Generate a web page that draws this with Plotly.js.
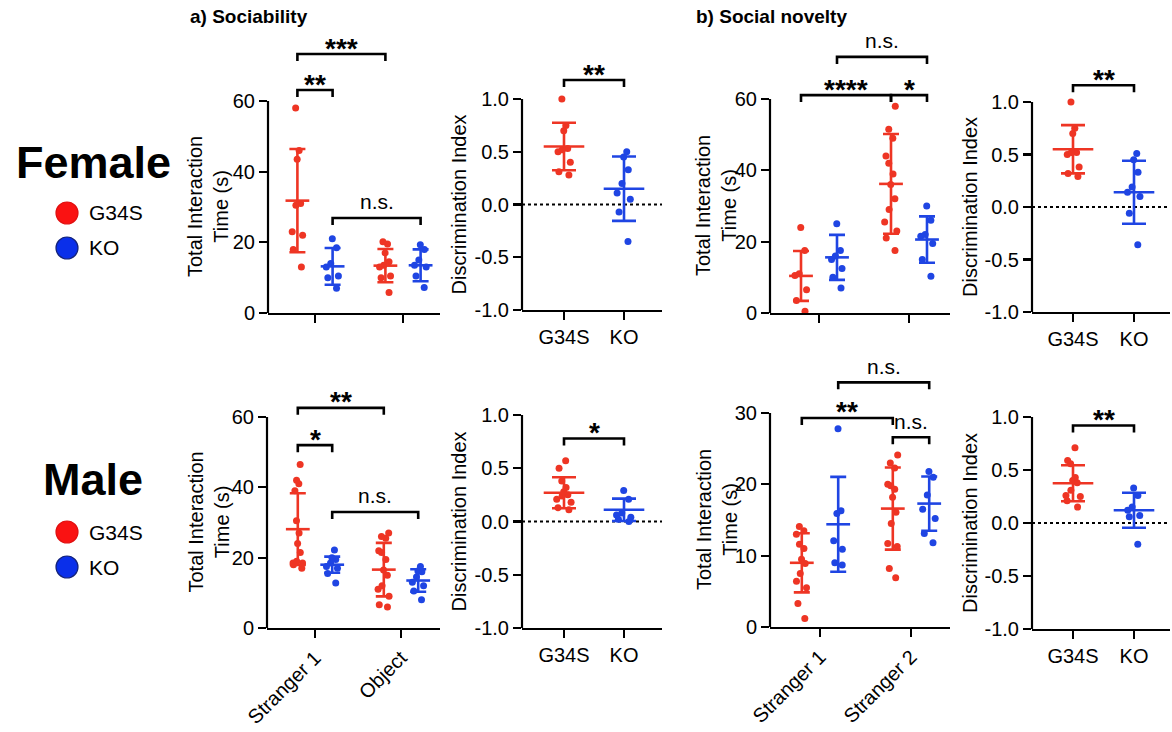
<!DOCTYPE html>
<html><head><meta charset="utf-8">
<script src="https://cdn.plot.ly/plotly-3.0.1.min.js"></script>
<style>html,body{margin:0;padding:0;background:#fff}#chart{width:1172px;height:732px}</style>
</head><body><div id="chart"></div>
<script>
const W = 1172, H = 732;
const RED = '#EE3524', BLUE = '#1F45E3';
const FONT = 'Liberation Sans, Arial, Helvetica, sans-serif';

// ---------- categories / labels ----------
const genotypes = ['G34S', 'KO'];
const sociabilityCats = ['Stranger 1', 'Object'];
const noveltyCats = ['Stranger 1', 'Stranger 2'];
const timeTicks = [0, 20, 40, 60];
const timeTicksMaleNovelty = [0, 10, 20, 30];
const diTicks = [-1, -0.5, 0, 0.5, 1];
const diTickText = ['-1.0', '-0.5', '0.0', '0.5', '1.0'];

// ---------- Female, sociability (s) ----------
const fSoc_G34S_S1 = [58, 46, 43.5, 31, 30.5, 23, 22, 18, 13];
const fSoc_KO_S1 = [21, 18.5, 14, 13, 10.5, 10, 7];
const fSoc_G34S_Obj = [20.2, 19.5, 17, 14.5, 13.5, 13, 10.5, 10, 5.8];
const fSoc_KO_Obj = [19.3, 18, 15, 13.5, 13, 10.5, 7.2];
const fSoc_mean = [31.8, 13.2, 13.4, 13.5];
const fSoc_sd = [14.6, 5.2, 4.7, 4.5];
const fSoc_sig = [[0, 1, 63.1, '**'], [0, 2, 73.3, '***'], [1, 3, 26.9, 'n.s.']];

// ---------- Female, sociability DI ----------
const fSocDI_G34S = [1.0, 0.75, 0.70, 0.53, 0.52, 0.50, 0.40, 0.31, 0.28];
const fSocDI_KO = [0.50, 0.45, 0.33, 0.20, 0.11, 0.05, -0.07, -0.35];
const fSocDI_mean = [0.55, 0.15];
const fSocDI_sd = [0.225, 0.305];
const fSocDI_sig = [[0, 1, 1.18, '**']];

// ---------- Female, social novelty (s) ----------
const fNov_G34S_S1 = [24, 17.5, 11, 10.5, 6.5, 3.5, 0.5];
const fNov_KO_S1 = [25, 17.5, 16, 15, 12.5, 10, 7];
const fNov_G34S_S2 = [58, 51.5, 49, 44, 42, 39, 36, 32, 29, 25.5, 23, 21, 17.5];
const fNov_KO_S2 = [30, 26, 22, 21.5, 19.5, 15, 10.3];
const fNov_mean = [10.4, 15.6, 36.2, 20.6];
const fNov_sd = [7.0, 6.3, 14.0, 6.5];
const fNov_sig = [[0, 2, 61.1, '****'], [2, 3, 61.1, '*'], [1, 3, 71.8, 'n.s.']];

// ---------- Female, social novelty DI ----------
const fNovDI_G34S = [1.0, 0.75, 0.70, 0.52, 0.52, 0.50, 0.38, 0.32, 0.29];
const fNovDI_KO = [0.51, 0.45, 0.33, 0.19, 0.14, 0.10, -0.06, -0.36];
const fNovDI_mean = [0.55, 0.14];
const fNovDI_sd = [0.23, 0.30];
const fNovDI_sig = [[0, 1, 1.16, '**']];

// ---------- Male, sociability (s) ----------
const mSoc_G34S_S1 = [46.5, 42, 41, 39, 30.5, 27, 24, 21.5, 19, 18.5, 18.5, 18, 17];
const mSoc_KO_S1 = [22.2, 20, 19.5, 18.5, 17.5, 17, 15.5, 12.8];
const mSoc_G34S_Obj = [27, 26, 25.5, 22, 21.5, 19.5, 16.5, 15, 12, 11, 9, 6.6, 6];
const mSoc_KO_Obj = [17.5, 16.2, 16, 14.5, 13, 12, 10.5, 8];
const mSoc_mean = [28.1, 18.0, 16.6, 13.5];
const mSoc_sd = [10.2, 2.3, 7.6, 3.2];
const mSoc_sig = [[0, 2, 62.6, '**'], [0, 1, 52, '*'], [1, 3, 33, 'n.s.']];

// ---------- Male, sociability DI ----------
const mSocDI_G34S = [0.57, 0.50, 0.38, 0.32, 0.28, 0.25, 0.24, 0.21, 0.18, 0.13, 0.11];
const mSocDI_KO = [0.29, 0.21, 0.08, 0.06, 0.04, 0.02, 0.0];
const mSocDI_mean = [0.27, 0.11];
const mSocDI_sd = [0.145, 0.105];
const mSocDI_sig = [[0, 1, 0.78, '*']];

// ---------- Male, social novelty (s) ----------
const mNov_G34S_S1 = [14.1, 13.5, 13, 11.6, 11, 9.5, 8.9, 7.5, 6.4, 5.5, 3.3, 1.2];
const mNov_KO_S1 = [27.8, 16.3, 15.9, 12.1, 10.9, 9, 8.7];
const mNov_G34S_S2 = [24.1, 23, 22.3, 20, 19.8, 19.3, 18.2, 16.1, 14.5, 11.7, 11.3, 8.2, 6.9];
const mNov_KO_S2 = [21.8, 21, 18.5, 16.5, 15.2, 13.1, 11.8];
const mNov_mean = [9.0, 14.4, 16.6, 17.3];
const mNov_sd = [4.15, 6.65, 5.75, 3.8];
const mNov_sig = [[0, 2, 29.3, '**'], [2, 3, 26.6, 'n.s.'], [1, 3, 34.3, 'n.s.']];

// ---------- Male, social novelty DI ----------
const mNovDI_G34S = [0.71, 0.59, 0.56, 0.43, 0.40, 0.38, 0.31, 0.26, 0.25, 0.21, 0.15];
const mNovDI_KO = [0.33, 0.26, 0.15, 0.12, 0.07, 0.06, -0.2];
const mNovDI_mean = [0.375, 0.12];
const mNovDI_sd = [0.17, 0.165];
const mNovDI_sig = [[0, 1, 0.92, '**']];

// ---------- panel geometry (pixels) ----------
const panels = [
  {left:268, right:440, bottom:313, tickTop:101, top:28, cats:[315,403], yMin:0, yMax:60, ticks:timeTicks, labels:['',''], grouped:true,
   vals:[fSoc_G34S_S1, fSoc_KO_S1, fSoc_G34S_Obj, fSoc_KO_Obj], mean:fSoc_mean, sd:fSoc_sd, sig:fSoc_sig, titleX:208},
  {left:522, right:662, bottom:310, tickTop:99, top:28, cats:[564,624], yMin:-1, yMax:1, ticks:diTicks, tickText:diTickText, labels:genotypes, grouped:false,
   vals:[fSocDI_G34S, fSocDI_KO], mean:fSocDI_mean, sd:fSocDI_sd, sig:fSocDI_sig, titleX:458},
  {left:770, right:950, bottom:313, tickTop:99, top:28, cats:[819,909], yMin:0, yMax:60, ticks:timeTicks, labels:['',''], grouped:true,
   vals:[fNov_G34S_S1, fNov_KO_S1, fNov_G34S_S2, fNov_KO_S2], mean:fNov_mean, sd:fNov_sd, sig:fNov_sig, titleX:716},
  {left:1032, right:1170, bottom:312, tickTop:102, top:28, cats:[1073,1134], yMin:-1, yMax:1, ticks:diTicks, tickText:diTickText, labels:genotypes, grouped:false,
   vals:[fNovDI_G34S, fNovDI_KO], mean:fNovDI_mean, sd:fNovDI_sd, sig:fNovDI_sig, titleX:970},
  {left:267, right:440, bottom:628, tickTop:417, top:345, cats:[315,401], yMin:0, yMax:60, ticks:timeTicks, labels:sociabilityCats, angle:-45, grouped:true,
   vals:[mSoc_G34S_S1, mSoc_KO_S1, mSoc_G34S_Obj, mSoc_KO_Obj], mean:mSoc_mean, sd:mSoc_sd, sig:mSoc_sig, titleX:208},
  {left:522, right:662, bottom:628, tickTop:415, top:345, cats:[564,624], yMin:-1, yMax:1, ticks:diTicks, tickText:diTickText, labels:genotypes, grouped:false,
   vals:[mSocDI_G34S, mSocDI_KO], mean:mSocDI_mean, sd:mSocDI_sd, sig:mSocDI_sig, titleX:458},
  {left:770, right:950, bottom:627, tickTop:413, top:345, cats:[820,911], yMin:0, yMax:30, ticks:timeTicksMaleNovelty, labels:noveltyCats, angle:-45, grouped:true,
   vals:[mNov_G34S_S1, mNov_KO_S1, mNov_G34S_S2, mNov_KO_S2], mean:mNov_mean, sd:mNov_sd, sig:mNov_sig, titleX:717},
  {left:1032, right:1170, bottom:629, tickTop:417, top:345, cats:[1073,1134], yMin:-1, yMax:1, ticks:diTicks, tickText:diTickText, labels:genotypes, grouped:false,
   vals:[mNovDI_G34S, mNovDI_KO], mean:mNovDI_mean, sd:mNovDI_sd, sig:mNovDI_sig, titleX:970}
];

const traces = [], shapes = [], annotations = [];
const layout = {
  width: W, height: H, margin: {l:0, r:0, t:0, b:0},
  paper_bgcolor: '#fff', plot_bgcolor: 'rgba(0,0,0,0)',
  showlegend: false, boxmode: 'overlay',
  font: {family: FONT, color: '#000', size: 20}
};

panels.forEach((p, k) => {
  const n = k + 1, sfx = n === 1 ? '' : String(n);
  const xr = 'x' + sfx, yr = 'y' + sfx;
  const u = p.cats[1] - p.cats[0];
  const pxY = (p.bottom - p.tickTop) / (p.yMax - p.yMin);
  const yTop = p.yMin + (p.bottom - p.top) / pxY;
  layout['xaxis' + sfx] = {
    domain: [p.left / W, p.right / W], range: [(p.left - p.cats[0]) / u, (p.right - p.cats[0]) / u],
    type: 'linear', anchor: yr, showline: true, linewidth: 2.2, linecolor: '#000',
    ticks: 'outside', ticklen: 8, tickwidth: 2.2, tickcolor: '#000',
    tickvals: [0, 1], ticktext: p.labels, tickangle: p.angle || 0,
    showgrid: false, zeroline: false, fixedrange: true, tickfont: {size: 20, family: FONT}
  };
  layout['yaxis' + sfx] = {
    domain: [1 - p.bottom / H, 1 - p.top / H], range: [p.yMin, yTop],
    type: 'linear', anchor: xr, showline: false,
    ticks: 'outside', ticklen: 8, tickwidth: 2.2, tickcolor: '#000',
    tickvals: p.ticks, ticktext: p.tickText || p.ticks.map(String),
    showgrid: false, zeroline: false, fixedrange: true, tickfont: {size: 20, family: FONT}
  };
  // y axis line from min to max tick only
  shapes.push({type:'line', xref: xr + ' domain', yref: yr, x0: 0, x1: 0, y0: p.yMin, y1: p.yMax,
    line: {color:'#000', width: 2.2}, layer: 'above'});
  if (!p.grouped) {
    shapes.push({type:'line', xref: xr + ' domain', yref: yr, x0: 0, x1: 1, y0: 0, y1: 0,
      line: {color:'#000', width: 2, dash: 'dot'}, layer: 'below'});
  }
  const pos = p.grouped ? [-0.2, 0.2, 0.8, 1.2] : [0, 1];
  const boxW = (p.grouped ? 22 : 27) / u;
  const meanSize = p.grouped ? 17 : 29;
  const capHalf = p.grouped ? 8 : 12;
  p.vals.forEach((v, g) => {
    const col = g % 2 === 0 ? RED : BLUE;
    traces.push({type:'box', xaxis: xr, yaxis: yr, x0: pos[g], y: v, width: boxW,
      boxpoints: 'all', jitter: 0.7, pointpos: 0, whiskerwidth: 0,
      fillcolor: 'rgba(0,0,0,0)', line: {width: 0, color: 'rgba(0,0,0,0)'},
      marker: {color: col, size: 7, line: {width: 0}}, hoverinfo: 'y', hoveron: 'points'});
    traces.push({type:'scatter', mode:'markers', xaxis: xr, yaxis: yr, x: [pos[g]], y: [p.mean[g]],
      marker: {symbol: 'line-ew', size: meanSize, color: col, line: {color: col, width: 2.6}},
      error_y: {type: 'data', array: [p.sd[g]], visible: true, width: capHalf, thickness: 2.6, color: col},
      hoverinfo: 'y'});
  });
  const drop = 7 / pxY;
  p.sig.forEach(s => {
    const a = pos[s[0]], b = pos[s[1]], h = s[2], lab = s[3];
    traces.push({type:'scatter', mode:'lines', xaxis: xr, yaxis: yr, x: [a, a, b, b], y: [h - drop, h, h, h - drop],
      line: {color: '#000', width: 2.6}, hoverinfo: 'skip'});
    const star = lab.indexOf('*') >= 0;
    annotations.push({xref: xr, yref: yr, x: (a + b) / 2, y: h, text: lab, showarrow: false,
      xanchor: 'center', yanchor: 'middle', yshift: star ? 6 : 16,
      font: {family: FONT, size: star ? 28 : 21, color: '#000', weight: star ? 'bold' : 'normal'}});
  });
  annotations.push({xref:'paper', yref:'paper', x: p.titleX / W, y: 1 - ((p.bottom + p.tickTop) / 2) / H,
    text: p.grouped ? 'Total Interaction<br>Time (s)' : 'Discrimination Index', textangle: -90, showarrow: false,
    xanchor: 'center', yanchor: 'middle', font: {family: FONT, size: 20, color: '#000'}});
});

// panel titles and row labels
annotations.push({xref:'paper', yref:'paper', x: 188 / W, y: 1 - 17 / H, text: '<b>a) Sociability</b>', showarrow:false,
  xanchor:'left', yanchor:'middle', font:{family: FONT, size: 19}});
annotations.push({xref:'paper', yref:'paper', x: 694 / W, y: 1 - 17 / H, text: '<b>b) Social novelty</b>', showarrow:false,
  xanchor:'left', yanchor:'middle', font:{family: FONT, size: 19}});
const rows = [['Female', 162, 213], ['Male', 480, 532]];
rows.forEach(r => {
  annotations.push({xref:'paper', yref:'paper', x: 93 / W, y: 1 - r[1] / H, text: '<b>' + r[0] + '</b>', showarrow:false,
    xanchor:'center', yanchor:'middle', font:{family: FONT, size: 45}});
  genotypes.forEach((gname, g) => {
    const cy = r[2] + g * 35;
    shapes.push({type:'circle', xref:'paper', yref:'paper', xsizemode:'pixel', ysizemode:'pixel',
      xanchor: 67 / W, yanchor: 1 - cy / H, x0: -11, x1: 11, y0: -11, y1: 11,
      fillcolor: g === 0 ? '#FA1212' : '#0A2FEA', line: {color: g === 0 ? '#E01010' : '#14237A', width: 1.2}});
    annotations.push({xref:'paper', yref:'paper', x: 87 / W, y: 1 - cy / H, text: gname, showarrow:false,
      xanchor:'left', yanchor:'middle', font:{family: FONT, size: 21}});
  });
});

layout.shapes = shapes;
layout.annotations = annotations;
Plotly.newPlot('chart', traces, layout, {displayModeBar: false, staticPlot: true});
</script></body></html>
